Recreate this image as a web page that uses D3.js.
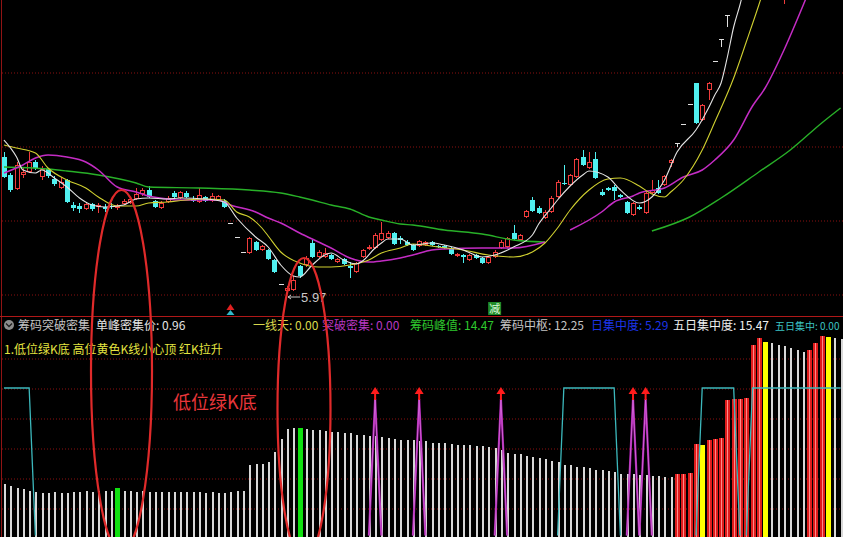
<!DOCTYPE html>
<html><head><meta charset="utf-8">
<script src="https://cdn.jsdelivr.net/npm/d3@7/dist/d3.min.js"></script>
<style>
html,body{margin:0;padding:0;background:#000;overflow:hidden;}
svg{display:block;}
text{font-family:"Noto Sans CJK SC","Noto Sans",sans-serif;}
</style></head>
<body>
<svg id="chart" width="843" height="537"></svg>
<script>
// ---------------- DATA ----------------
const candleOpen = [11.41,10.69,10.13,10.69,10.81,11.21,10.61,10.93,10.53,10.17,
10.49,9.49,9.45,9.33,9.53,9.41,9.41,9.45,9.37,9.53,
9.57,9.73,9.93,10.09,9.65,9.37,9.61,9.97,9.77,9.97,
9.73,9.61,9.81,9.65,9.69,9.65,8.77,8.21,7.61,7.57,
8.01,7.69,7.69,7.29,6.33,6.05,6.09,7.05,7.09,7.97,
7.41,7.41,7.49,7.21,7.33,7.05,6.81,7.41,7.73,7.77,
8.09,8.17,8.37,8.17,8.01,7.89,7.85,7.89,8.01,7.85,
7.85,7.77,7.45,7.49,7.29,7.49,7.37,7.17,7.41,7.77,
7.81,8.37,8.09,9.01,9.69,9.37,8.97,9.21,9.81,10.37,
10.29,10.61,11.41,10.97,11.33,10.01,10.17,10.21,9.89,9.61,
9.09,9.41,9.17,9.97,10.17,10.29,11.17,11.99,12.73,13.53,
14.37,12.89,14.09,15.25,16.13,17.09,18.80,19.6,20.9,21.2,
22.5,23.4,22.4,21.4,20.0,21.2,21.9,21.3,20.9,22.1,
23.6,25.8,24.7,24.1];
const candleHigh = [11.61,10.77,11.21,10.97,11.61,11.29,11.05,10.97,10.65,10.61,
10.53,9.61,9.57,9.61,9.57,9.57,9.53,9.57,9.53,9.73,
9.81,10.17,10.17,10.25,9.69,9.65,9.85,10.05,10.05,10.05,
9.85,10.17,9.85,9.97,9.89,9.73,8.77,8.21,7.61,8.21,
8.05,7.89,7.73,7.33,6.33,6.25,6.65,7.09,7.45,8.09,
7.69,7.77,7.53,7.37,7.37,7.21,7.21,7.73,7.89,8.37,
8.81,8.45,8.41,8.25,8.09,7.93,8.09,8.05,8.05,7.89,
7.89,7.81,7.57,7.53,7.53,7.53,7.41,7.45,7.69,8.09,
8.21,8.69,8.33,9.29,9.81,9.45,9.29,9.85,10.49,11.09,
10.73,11.37,11.69,11.61,11.61,10.13,10.21,10.29,9.93,9.65,
9.61,9.49,10.01,10.49,10.49,10.69,11.33,11.99,12.73,13.53,
14.37,13.53,14.41,15.25,16.13,17.09,18.80,20.68,21.9,22.8,
23.9,24.6,23.0,22.0,21.4,22.3,22.6,21.9,22.2,23.8,
25.6,26.9,25.3,24.9];
const candleLow = [10.57,10.01,10.09,10.57,10.77,10.89,10.49,10.57,10.25,10.13,
9.57,9.25,9.17,9.29,9.25,9.17,9.21,9.33,9.29,9.49,
9.53,9.69,9.85,9.77,9.37,9.33,9.57,9.73,9.73,9.77,
9.61,9.57,9.61,9.61,9.65,9.37,8.77,8.21,7.61,7.53,
7.65,7.65,7.29,6.77,6.33,5.97,6.05,6.57,7.01,7.37,
7.37,7.37,7.29,7.17,7.09,6.57,6.77,7.37,7.69,7.73,
8.05,8.13,7.89,7.93,7.85,7.65,7.81,7.85,7.85,7.77,
7.73,7.49,7.41,7.17,7.25,7.33,7.13,7.13,7.37,7.73,
7.77,8.09,8.05,8.97,9.21,9.13,8.93,9.17,9.77,10.29,
10.25,10.57,11.05,10.93,10.53,9.85,10.05,9.69,9.77,9.13,
9.05,9.29,9.13,9.93,9.93,10.25,11.01,11.81,12.73,13.53,
12.73,12.85,13.69,15.25,15.81,16.63,18.80,19.3,20.2,20.8,
22.0,22.3,21.2,20.1,17.55,20.8,21.0,20.4,20.6,21.9,
23.3,24.4,23.6,23.2];
const candleClose = [10.61,10.09,11.09,10.81,11.21,10.97,10.93,10.65,10.33,10.41,
9.61,9.37,9.33,9.53,9.33,9.49,9.33,9.41,9.45,9.65,
9.73,9.93,10.09,9.81,9.41,9.57,9.77,9.81,10.01,9.81,
9.65,9.89,9.65,9.85,9.85,9.41,8.77,8.21,7.61,8.17,
7.69,7.85,7.33,6.81,6.33,6.17,6.49,6.65,7.37,7.41,
7.61,7.57,7.33,7.33,7.13,6.97,7.17,7.69,7.81,8.29,
8.37,8.37,7.93,8.09,7.89,7.69,8.05,8.01,7.89,7.81,
7.77,7.53,7.53,7.41,7.49,7.37,7.17,7.41,7.61,8.01,
8.17,8.13,8.29,9.25,9.25,9.17,9.21,9.77,10.41,10.33,
10.69,11.33,11.09,11.21,10.57,9.89,10.09,10.05,9.81,9.17,
9.57,9.33,9.97,10.09,9.97,10.65,11.29,11.99,12.73,13.53,
12.77,13.49,14.37,15.25,16.13,17.09,18.80,20.68,21.5,22.4,
23.6,22.7,21.6,20.5,21.1,22.0,21.4,20.8,22.0,23.5,
25.3,24.9,24.0,24.6];

// moving averages: [bar index, price]
const ma5Pts = [[0,12.09],[2,11.41],[3,10.89],[5,10.77],[6,10.89],[8,10.57],[10,10.21],[12,9.77],[14,9.49],[16,9.41],[19,9.49],[21,9.73],[23,9.77],[26,9.73],[28,9.77],[32,9.73],[35,9.61],[37,8.97],[40,8.21],[42,7.81],[44,7.09],[46,6.65],[47,6.61],[49,7.09],[51,7.49],[52,7.57],[54,7.29],[56,7.13],[57,7.25],[59,7.77],[60,7.97],[61,8.13],[63,8.13],[65,7.89],[68,7.97],[70,7.89],[73,7.69],[76,7.41],[78,7.49],[81,7.81],[84,8.29],[85,8.73],[87,9.37],[88,9.69],[90,10.25],[92,10.69],[93,10.85],[96,10.61],[98,10.09],[101,9.57],[103,9.81],[105,10.49],[107,11.61],[110,12.49],[112,13.37],[113,13.89],[114,14.37],[115,15.41],[116,16.61],[117,17.49],[118,18.49],[120,19.9]];
const ma10Pts = [[0,11.89],[2,11.77],[5,11.57],[7,10.97],[10,10.49],[13,10.17],[15,9.81],[18,9.45],[21,9.45],[23,9.57],[26,9.61],[29,9.69],[32,9.73],[35,9.69],[37,9.21],[39,9.01],[41,8.57],[42,8.25],[44,7.61],[47,7.17],[50,7.01],[52,7.01],[55,7.09],[58,7.29],[60,7.57],[63,7.77],[65,7.93],[69,7.81],[73,7.69],[77,7.49],[81,7.41],[84,7.61],[86,7.97],[88,8.57],[90,9.29],[93,10.09],[96,10.53],[98,10.57],[101,10.25],[103,9.93],[105,9.81],[106,10.01],[108,10.49],[111,11.69],[113,12.81],[116,14.57],[118,16.01],[120,17.49],[122,19.09]];
const ma20PtsA = [[0,10.77],[3,11.09],[5,11.37],[7,11.49],[10,11.41],[13,11.21],[15,10.89],[18,10.21],[21,10.01],[23,9.85],[26,9.73],[28,9.69],[31,9.69],[34,9.69],[36,9.49],[40,9.21],[42,8.97],[44,8.77],[47,8.37],[50,8.01],[52,7.77],[55,7.37],[58,7.21],[60,7.25],[63,7.37],[65,7.49],[68,7.69],[70,7.73],[76,7.77],[81,7.77],[86,8.01]];
const ma20PtsB = [[90,8.49],[95,9.21],[97,9.61],[100,9.85],[101,9.97],[105,10.17],[108,10.61],[111,10.89],[113,11.29],[116,12.09],[119,13.45],[121,14.17],[124,15.69],[127,17.45],[129,18.69]];
const ma60PtsA = [[0,11.01],[7,10.93],[10,10.85],[15,10.69],[21,10.37],[23,10.21],[31,10.17],[39,10.09],[44,9.97],[47,9.81],[49,9.69],[52,9.49],[55,9.33],[58,9.01],[60,8.89],[63,8.73],[65,8.69],[70,8.49],[76,8.33],[81,8.09],[86,8.01]];
const ma60PtsB = [[103,8.45],[109,9.01],[114,9.77],[120,10.81],[125,11.69],[130,12.77],[133,13.37]];

// lower panel
const barValues = [5.3,5.1,4.9,4.8,4.6,4.5,4.4,4.4,4.5,4.4,
4.4,4.5,4.5,4.6,4.5,4.6,4.6,4.6,4.9,4.6,
4.6,4.5,4.6,4.5,4.5,4.5,4.5,4.5,4.5,4.5,
4.5,4.5,4.4,4.5,4.4,4.4,4.5,4.6,4.6,7.2,
7.3,7.3,7.5,8.5,9.8,10.8,10.9,10.9,10.8,10.7,
10.7,10.6,10.5,10.5,10.4,10.4,10.2,10.2,10.1,10.1,
10.0,9.9,9.8,9.7,9.7,9.7,9.6,9.6,9.4,9.4,
9.4,9.3,9.2,9.2,9.2,9.1,9.1,9.0,8.9,8.7,
8.4,8.3,8.3,8.1,8.0,7.9,7.8,7.6,7.5,7.2,
7.2,7.0,7.0,6.9,6.7,6.7,6.6,6.5,6.3,6.3,
6.3,6.2,6.2,6.1,6.1,6.0,6.0,6.3,6.3,6.4,
9.3,9.2,9.7,9.8,9.9,13.7,13.8,13.8,13.9,19.2,
19.9,19.5,19.4,19.2,19.1,18.9,18.7,18.5,18.7,19.4,
20.1,20.0,19.9,19.8];
const barKinds = ("wwwwwwwwww"+"wwwwwwwwgw"+"wwwwwwwwww"+"wwwwwwwwww"+"wwwwwwwgww"+
  "wwwwwwwwww"+"wwwwwwwwww"+"wwwwwwwwww"+"wwwwwwwwww"+"wwwwwwwwww"+
  "wwwwwwwrrr"+"ryrrrrrrrr"+"rywwwwwwrr"+"ryww").split("");
const fiveDayLine = [14.9,14.9,14.9,14.9,14.9,0,0,0,0,0,
0,0,0,0,0,0,0,0,0,0, 0,0,0,0,0,0,0,0,0,0, 0,0,0,0,0,0,0,0,0,0,
0,0,0,0,0,0,0,0,0,0, 0,0,0,0,0,0,0,0,0,0, 0,0,0,0,0,0,0,0,0,0,
0,0,0,0,0,0,0,0,0,0, 0,0,0,0,0,0,0,0,0,14.9,
14.9,14.9,14.9,14.9,14.9,14.9,14.9,14.9,0,0,
0,0,0,0,0,0,0,0,0,0,
0,14.9,14.9,14.9,14.9,14.9,14.9,0,0,14.9,
14.9,14.9,14.9,14.9,14.9,14.9,14.9,14.9,14.9,14.9,
14.9,14.9,14.9,14.9];
const breakLine = [0,0,0,0,0,0,0,0,0,0, 0,0,0,0,0,0,0,0,0,0,
0,0,0,0,0,0,0,0,0,0, 0,0,0,0,0,0,0,0,0,0, 0,0,0,0,0,0,0,0,0,0,
0,0,0,0,0,0,0,0,0,13.8, 0,0,0,0,0,0,13.8,0,0,0,
0,0,0,0,0,0,0,0,0,13.8, 0,0,0,0,0,0,0,0,0,0,
0,0,0,0,0,0,0,0,0,0, 13.8,0,13.8,0,0,0,0,0,0,0,
0,0,0,0,0,0,0,0,0,0, 0,0,0,0,0,0,0,0,0,0, 0,0,0,0];

const priceGrid = [5.93,8.89,11.85,14.81];
const lowerGrid = [2.9,5.9,8.9,11.9,14.9,17.9];

const indicatorTitle = "筹码突破密集";
const legendNames  = ["单峰密集价","一线天","突破密集","筹码峰值","筹码中枢","日集中度","五日集中度","五日集中"];
const legendValues = [0.96,0.00,0.00,14.47,12.25,5.29,15.47,0.00];
const legendColors = ["#e4e4e4","#d8d84c","#b838c0","#2ec82e","#c4c4c4","#1c34e8","#f0f0f0","#3cc4c4"];
const noteText = "1.低位绿K底 高位黄色K线小心顶 红K拉升";
const calloutText = "低位绿K底";
const sellMark = "减";

// ---------------- DRAW ----------------
const W = 843, H = 537;
const svg = d3.select("#chart");
svg.append("rect").attr("width", W).attr("height", H).attr("fill", "#000");
const defs = svg.append("defs");
defs.append("clipPath").attr("id", "lowClip").append("rect").attr("x", 0).attr("y", 330).attr("width", W).attr("height", 205.5);

const N = candleOpen.length;
const x = d3.scaleLinear().domain([0, N - 1]).range([4, 840.6]);
const px = i => Math.round(x(i));
const yP = d3.scaleLinear().domain([5.97, 17.69]).range([293, 0]);
const yB = d3.scaleLinear().domain([0, 20]).range([537, 337]);

// grid lines via axes
const gridStyle = g => {
  g.select(".domain").remove();
  g.selectAll(".tick line").attr("stroke", "#8a1010").attr("stroke-dasharray", "1,2");
  g.selectAll(".tick text").remove();
};
svg.append("g").attr("transform", "translate(2,0.5)")
  .call(d3.axisRight(yP).tickValues(priceGrid).tickSize(W).tickFormat(""))
  .call(gridStyle);
svg.append("g").attr("transform", "translate(2,0.5)")
  .call(d3.axisRight(yB).tickValues(lowerGrid).tickSize(W).tickFormat(""))
  .call(gridStyle);

// frame lines
svg.append("line").attr("x1", 1.5).attr("x2", 1.5).attr("y1", 0).attr("y2", H).attr("stroke", "#901414");
svg.append("line").attr("x1", 0).attr("x2", W).attr("y1", 316.5).attr("y2", 316.5).attr("stroke", "#b01818");

// candles
const UP = "#f03c3c", DN = "#50f0f0", FLAT = "#e0e0e0";
const cg = svg.append("g").attr("shape-rendering", "crispEdges");
d3.range(N).forEach(i => {
  const o = candleOpen[i], c = candleClose[i], h = candleHigh[i], l = candleLow[i];
  const cx = px(i) + 0.5;
  const yh = Math.round(yP(h)), yl = Math.round(yP(l));
  if (c > o) {
    const top = Math.round(yP(c)), bot = Math.round(yP(o));
    if (yh < top) cg.append("line").attr("x1", cx).attr("x2", cx).attr("y1", yh).attr("y2", top).attr("stroke", UP);
    if (yl > bot) cg.append("line").attr("x1", cx).attr("x2", cx).attr("y1", bot).attr("y2", yl).attr("stroke", UP);
    cg.append("rect").attr("x", cx - 2).attr("y", top + 0.5).attr("width", 4).attr("height", Math.max(1, bot - top - 1))
      .attr("fill", "#000").attr("stroke", UP).attr("stroke-width", 1);
  } else if (c < o) {
    const top = Math.round(yP(o)), bot = Math.round(yP(c));
    cg.append("line").attr("x1", cx).attr("x2", cx).attr("y1", yh).attr("y2", yl).attr("stroke", DN);
    cg.append("rect").attr("x", cx - 2.5).attr("y", top).attr("width", 5).attr("height", Math.max(1, bot - top))
      .attr("fill", DN);
  } else {
    const yc = Math.round(yP(c)) + 0.5;
    if (yl - yh > 1) cg.append("line").attr("x1", cx).attr("x2", cx).attr("y1", yh).attr("y2", yl).attr("stroke", FLAT);
    cg.append("line").attr("x1", cx - 2.5).attr("x2", cx + 2.5).attr("y1", yc).attr("y2", yc).attr("stroke", FLAT);
  }
});

// moving averages
const maLine = d3.line().x(d => x(d[0])).y(d => yP(d[1])).curve(d3.curveMonotoneX);
const maDefs = [
  [ma60PtsA, "#28b028", 1.4], [ma60PtsB, "#28b028", 1.4],
  [ma20PtsA, "#c42cc4", 1.5], [ma20PtsB, "#c42cc4", 1.5],
  [ma10Pts, "#d0d030", 1.1], [ma5Pts, "#e4e4e4", 1.1]
];
maDefs.forEach(([pts, col, w]) => {
  svg.append("path").attr("d", maLine(pts)).attr("fill", "none").attr("stroke", col).attr("stroke-width", w);
});

// lowest price marker
const iLow = d3.minIndex(candleLow);
const lx = x(iLow), ly = yP(candleLow[iLow]) + 4;
svg.append("path").attr("d", `M${lx + 1},${ly} L${lx + 13},${ly} M${lx + 1},${ly} L${lx + 4},${ly - 2} M${lx + 1},${ly} L${lx + 4},${ly + 2}`)
  .attr("stroke", "#c8c8c8").attr("stroke-width", 1).attr("fill", "none");
svg.append("text").attr("x", lx + 14).attr("y", ly + 5).attr("fill", "#c8c8c8")
  .attr("font-size", 13).style("font-family", "Liberation Sans, Arial, sans-serif")
  .text(candleLow[iLow].toFixed(2));

// signal glyphs on top panel bottom edge
const gx = x(36);
svg.append("path").attr("d", `M${gx},304 L${gx - 4},310 L${gx + 4},310 Z`).attr("fill", "#e02020");
svg.append("path").attr("d", `M${gx},310 L${gx - 4},315 L${gx + 4},315 Z`).attr("fill", "#30b8c8");
const sx = x(78);
svg.append("rect").attr("x", sx - 6.5).attr("y", 302).attr("width", 13).attr("height", 13).attr("fill", "#1f8a28");
svg.append("text").attr("x", sx).attr("y", 313).attr("text-anchor", "middle").attr("font-size", 11)
  .attr("fill", "#d8f8d8").text(sellMark);

// lower panel bars
const bg = svg.append("g").attr("shape-rendering", "crispEdges");
const kindColor = {w: "#d8d8d8", r: "#e01c1c", y: "#ffff00", g: "#10e010"};
barValues.forEach((v, i) => {
  const k = barKinds[i], p = px(i), top = Math.round(yB(v));
  if (k === "w") {
    bg.append("rect").attr("x", p).attr("y", top).attr("width", 2).attr("height", 537 - top).attr("fill", kindColor.w);
  } else {
    bg.append("rect").attr("x", p - 2).attr("y", top).attr("width", 5).attr("height", 537 - top).attr("fill", kindColor[k]);
    if (k === "r") bg.append("rect").attr("x", p).attr("y", top).attr("width", 1).attr("height", 537 - top).attr("fill", "#ff8a8a");
  }
});

// lines of the lower panel (zero baseline hidden under bottom edge)
const lowG = svg.append("g").attr("clip-path", "url(#lowClip)");
const idxLine = d3.line().x((d, i) => x(i)).y(d => yB(d));
lowG.append("path").attr("d", idxLine(fiveDayLine)).attr("fill", "none").attr("stroke", "#3cb8bc").attr("stroke-width", 1.3);
lowG.append("path").attr("d", idxLine(breakLine)).attr("fill", "none").attr("stroke", "#a41ca8").attr("stroke-width", 2.2);
lowG.append("path").attr("d", idxLine(breakLine)).attr("fill", "none").attr("stroke", "#e47ce8").attr("stroke-width", 0.7);
breakLine.forEach((v, i) => {
  if (v <= 0) return;
  const cx = x(i), ty = yB(v) - 12;
  svg.append("path").attr("d", `M${cx},${ty} L${cx - 4.5},${ty + 7} L${cx - 1},${ty + 7} L${cx - 1},${ty + 13} L${cx + 1},${ty + 13} L${cx + 1},${ty + 7} L${cx + 4.5},${ty + 7} Z`)
    .attr("fill", "#ff1c1c");
});

// legend rows
svg.append("circle").attr("cx", 9).attr("cy", 325).attr("r", 5).attr("fill", "#8c8c8c");
svg.append("path").attr("d", "M6,323.5 L9,326.5 L12,323.5").attr("fill", "none").attr("stroke", "#202020").attr("stroke-width", 1.3);
svg.append("text").attr("x", 18).attr("y", 330).attr("font-size", 12).attr("fill", "#c4c4c4").text(indicatorTitle);
const legendX = [96, 253, 322, 410, 500, 591, 673, 775];
const legendSize = [12, 12, 12, 12, 12, 12, 12, 10];
legendNames.forEach((n, k) => {
  svg.append("text").attr("x", legendX[k]).attr("y", 330).attr("font-size", legendSize[k]).attr("fill", legendColors[k])
    .text(n + ": " + legendValues[k].toFixed(2));
});
svg.append("text").attr("x", 4).attr("y", 354).attr("font-size", 12).attr("fill", "#e4e440").text(noteText);

// annotations
svg.append("ellipse").attr("cx", 121.5).attr("cy", 371).attr("rx", 30.5).attr("ry", 181)
  .attr("fill", "none").attr("stroke", "#e02a2a").attr("stroke-width", 2.2);
svg.append("ellipse").attr("cx", 304).attr("cy", 409).attr("rx", 26.5).attr("ry", 151)
  .attr("fill", "none").attr("stroke", "#e02a2a").attr("stroke-width", 2.2);
svg.append("text").attr("x", 173).attr("y", 409).attr("font-size", 18).attr("fill", "#e8363a").text(calloutText);
</script>
</body></html>
